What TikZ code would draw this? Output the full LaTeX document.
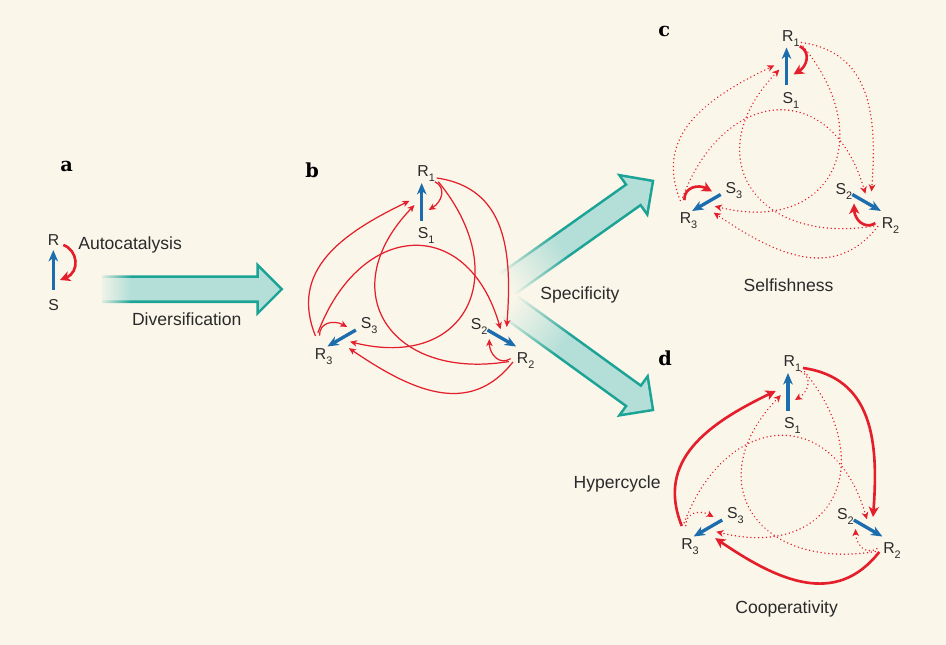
\documentclass[tikz,border=0pt]{standalone}
\usepackage{fontspec}
\setmainfont{Liberation Sans}
\newfontfamily\panelfont{DejaVu Serif}
\usetikzlibrary{arrows.meta}
\definecolor{bgc}{HTML}{FAF6EA}
\definecolor{redc}{HTML}{E41E2B}
\definecolor{bluec}{HTML}{1B6DAD}
\definecolor{tealD}{HTML}{1BA396}
\definecolor{tealL}{HTML}{B4DFD8}
\definecolor{txtc}{HTML}{2A2A2A}
\colorlet{tealF}{tealL!15!bgc}
\colorlet{tealDF}{tealD!12!bgc}
\pgfdeclarehorizontalshading{fillA}{100bp}{color(0bp)=(tealF); color(25bp)=(tealF); color(33bp)=(tealL); color(100bp)=(tealL)}
\pgfdeclarehorizontalshading{lineA}{100bp}{color(0bp)=(tealDF); color(25bp)=(tealDF); color(33bp)=(tealD); color(100bp)=(tealD)}
\pgfdeclarehorizontalshading{fillB}{100bp}{color(0bp)=(bgc); color(25bp)=(bgc); color(44bp)=(tealL); color(100bp)=(tealL)}
\pgfdeclarehorizontalshading{lineB}{100bp}{color(0bp)=(bgc); color(25bp)=(bgc); color(44bp)=(tealD); color(100bp)=(tealD)}
\newcommand\subs[1]{\raisebox{-2.8pt}{\fontsize{6.2}{7}\selectfont#1}}
\newcommand\bigarrow[5]{%
 \begin{scope}[transform canvas={shift={(#1,#2)},rotate=#3}]
  \pgfmathsetmacro\La{#4-25.3}\pgfmathsetmacro\Lb{#4+1.8}%
  \pgfmathsetmacro\Lc{#4-22.7}\pgfmathsetmacro\Ld{#4-1.8}%
  \shade[shading=line#5] (0,-13.8) -- (\La,-13.8) -- (\La,-27.1) -- (\Lb,0) -- (\La,27.1) -- (\La,13.8) -- (0,13.8) -- cycle;
  \shade[shading=fill#5] (0,-11.2) -- (\Lc,-11.2) -- (\Lc,-20.9) -- (\Ld,0) -- (\Lc,20.9) -- (\Lc,11.2) -- (0,11.2) -- cycle;
 \end{scope}}
\newcommand\hnet[6]{%
 \begin{scope}[shift={(#1,#2)}]
  \foreach \k/\ang/\tr in {1/0/71, 2/-120/76, 3/120/76}{
   \begin{scope}[rotate=\ang]
    \coordinate (#3t\k) at (0,-\tr);
    \coordinate (#3h\k) at (0,-109);
    \coordinate (#3ss\k) at (13.3,-110.3);
    \coordinate (#3se\k) at (7,-82);
    \coordinate (#3os\k) at (15,-114);
    \coordinate (#3oe\k) at (85,35);
    \coordinate (#3is\k) at (16.6,-110.3);
    \coordinate (#3ie\k) at (-71.7,49.7);
    \draw[blu] (#3t\k) -- (#3h\k);
    \draw[#4] (#3ss\k) .. controls (25,-104) and (20,-90) .. (#3se\k);
    \draw[#6] (#3is\k) .. controls (92.2,-17.9) and (44.7,78.5) .. (#3ie\k);
    \draw[#5] (#3os\k) .. controls (85,-104) and (90.6,-40) .. (#3oe\k);
   \end{scope}}
  \node[lbl] (#3R1) at (-4.7,-115.3) {R\subs{1}};
  \node[lbl] (#3S1) at (-4.3,-53.3) {S\subs{1}};
  \node[lbl] (#3R2) at (94.9,71.7) {R\subs{2}};
  \node[lbl] (#3S2) at (48.7,37.7) {S\subs{2}};
  \node[lbl] (#3R3) at (-107.1,67.2) {R\subs{3}};
  \node[lbl] (#3S3) at (-61.3,36.7) {S\subs{3}};
 \end{scope}}
\begin{document}
\begin{tikzpicture}[x=0.02cm,y=-0.02cm,
  lbl/.style={anchor=base west, inner sep=0, text=txtc, font=\fontsize{9}{10}\selectfont},
  txt/.style={anchor=base west, inner sep=0, text=txtc, font=\fontsize{10}{12}\selectfont},
  plet/.style={anchor=base west, inner sep=0, text=black, font=\panelfont\bfseries\fontsize{11}{12}\selectfont},
  blu/.style={draw=bluec, line width=1.9pt, -{Stealth[length=6.5pt,width=5.4pt,inset=2pt]}},
  thinR/.style={draw=redc, line width=0.7pt, -{Stealth[length=4pt,width=3.6pt,inset=1.1pt]}},
  thickR/.style={draw=redc, line width=1.5pt, -{Stealth[length=5.8pt,width=5.8pt,inset=1.6pt]}},
  dotR/.style={draw=redc, line width=0.9pt, line cap=round, dash pattern=on 0.01pt off 2.2pt, -{Stealth[length=4pt,width=3.8pt,inset=1.1pt]}}]
\useasboundingbox (0,0) rectangle (946,645);
\fill[bgc] (0,0) rectangle (946,645);
% big arrows
\bigarrow{102}{289.2}{0}{179.7}{A}
\bigarrow{506}{285}{35.3}{180.1}{B}
\bigarrow{508}{305}{-35.9}{179}{B}
% panel letters
\node[plet] (la) at (60,171.7) {a};
\node[plet] (lb) at (305,178) {b};
\node[plet] (lc) at (658,36.7) {c};
\node[plet] (ld) at (658,365) {d};
% panel a
\node[lbl] (aR) at (47.6,245.7) {R};
\node[lbl] (aS) at (48,310.7) {S};
\coordinate (aT) at (53.3,290);
\coordinate (aH) at (53.3,250);
\draw[blu] (aT) -- (aH);
\coordinate (aLs) at (63.3,245);
\coordinate (aLe) at (60,280);
\draw[thickR] (aLs) .. controls (78,250) and (80,272) .. (aLe);
% texts
\node[txt] (tA) at (78,250) {Autocatalysis};
\node[txt] (tD) at (131.7,325.5) {Diversification};
\node[txt] (tS) at (540,299) {Specificity};
\node[txt] (tF) at (743.3,291.7) {Selfishness};
\node[txt] (tH) at (573.3,488.3) {Hypercycle};
\node[txt] (tC) at (735,613.3) {Cooperativity};
% networks
\hnet{421.7}{292}{b}{thinR}{thinR}{thinR}
\hnet{786.5}{156.5}{c}{thickR}{dotR}{dotR}
\hnet{788}{482}{d}{dotR}{thickR}{dotR}
\end{tikzpicture}
\end{document}
